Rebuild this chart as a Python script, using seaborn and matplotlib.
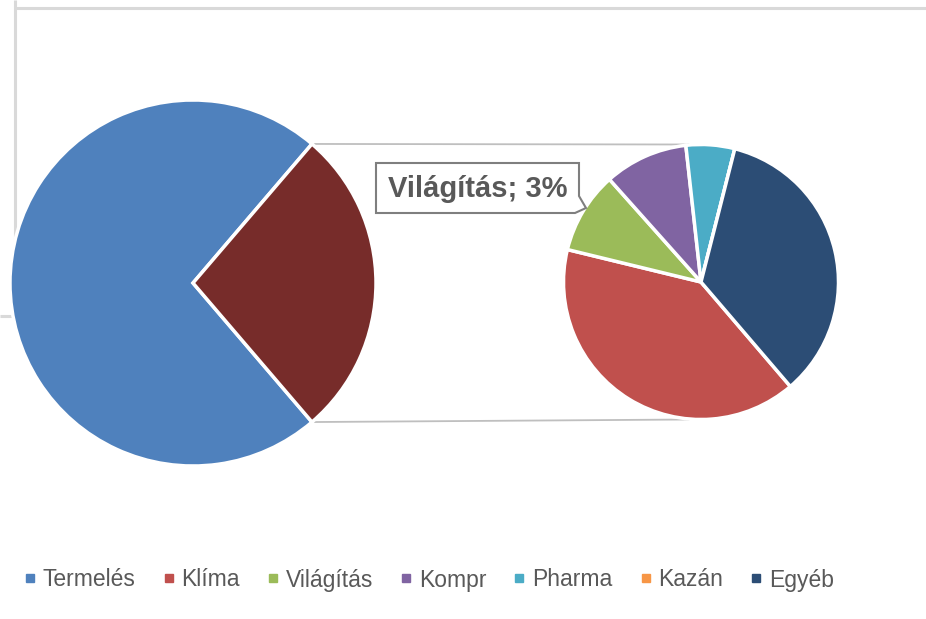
import numpy as np
import matplotlib
matplotlib.use("Agg")
import matplotlib.pyplot as plt
from matplotlib.lines import Line2D
from matplotlib.patches import Polygon
import seaborn as sns

# ---- data ----
categories = ["Termelés", "Klíma", "Világítás", "Kompr", "Pharma", "Kazán", "Egyéb"]
shares = [72.5, 11.0, 2.64, 2.7, 1.57, 0.0, 9.55]   # percent of total
colors = ["#4F81BD", "#C0504D", "#9BBB59", "#8064A2", "#4BACC6", "#F79646", "#2C4D75"]
other_color = "#772C2A"
label_text = "Világítás; 3%"

sns.set_theme(style="white")
plt.rcParams["font.family"] = ["Liberation Sans", "DejaVu Sans"]

W, H = 926, 619
fig = plt.figure(figsize=(W / 100, H / 100), dpi=100)
ax = fig.add_axes([0, 0, 1, 1])
ax.set_xlim(0, W)
ax.set_ylim(0, H)
ax.set_aspect("equal")
ax.axis("off")

def py(y):
    return H - y

# frame lines (spreadsheet cell borders)
frame_kw = dict(color="#D9D9D9", lw=2.2, solid_capstyle="butt", zorder=0)
ax.plot([14.5, W], [py(8), py(8)], **frame_kw)
ax.plot([14.5, 14.5], [py(0), py(316)], **frame_kw)
ax.plot([0, 14.5], [py(316), py(316)], **frame_kw)

main_vals = [shares[0], sum(shares[1:])]
sec_vals = shares[1:]
sec_colors = colors[1:]

# main pie
c1 = (193, py(283)); r1 = 183
half = 360 * main_vals[1] / sum(main_vals) / 2
ax.pie(main_vals, colors=[colors[0], other_color], center=c1, radius=r1,
       startangle=-half, counterclock=False,
       wedgeprops=dict(edgecolor="white", linewidth=2.5), frame=True)

# secondary pie
c2 = (701, py(282)); r2 = 137.5
ax.pie(sec_vals, colors=sec_colors, center=c2, radius=r2,
       startangle=-half, counterclock=False,
       wedgeprops=dict(edgecolor="white", linewidth=2.5), frame=True)

ax.set_xlim(0, W)
ax.set_ylim(0, H)
ax.axis("off")

# connector lines
a = np.deg2rad(half)
p_top = (c1[0] + r1 * np.cos(a), c1[1] + r1 * np.sin(a))
p_bot = (c1[0] + r1 * np.cos(a), c1[1] - r1 * np.sin(a))
ax.plot([p_top[0], c2[0] - 12], [p_top[1], c2[1] + r2], color="#BFBFBF", lw=1.3, zorder=0)
ax.plot([p_bot[0], c2[0] - 12], [p_bot[1], c2[1] - r2], color="#BFBFBF", lw=1.3, zorder=0)

# data label with callout
bx0, bx1, by0, by1 = 376, 579, 163, 213
box = Polygon([(bx0, py(by0)), (bx1, py(by0)), (bx1, py(196)), (586, py(208)),
               (bx1 - 4, py(by1)), (bx0, py(by1))], closed=True,
              facecolor="white", edgecolor="#7F7F7F", lw=1.5, zorder=5)
ax.add_patch(box)
ax.text((bx0 + bx1) / 2, py((by0 + by1) / 2 + 1), label_text, ha="center", va="center",
        fontsize=21, fontweight="bold", color="#595959", zorder=6)

# legend
handles = [Line2D([0], [0], marker="s", linestyle="none", markersize=6,
                  markerfacecolor=c, markeredgecolor=c) for c in colors]
fig.legend(handles, categories, loc="center", bbox_to_anchor=(429 / W, 1 - 580 / H),
           ncol=len(categories), frameon=False, fontsize=16.5,
           handlelength=0.5, handletextpad=0.3, columnspacing=1.2,
           labelcolor="#595959")

fig.savefig("out.png", dpi=100)
